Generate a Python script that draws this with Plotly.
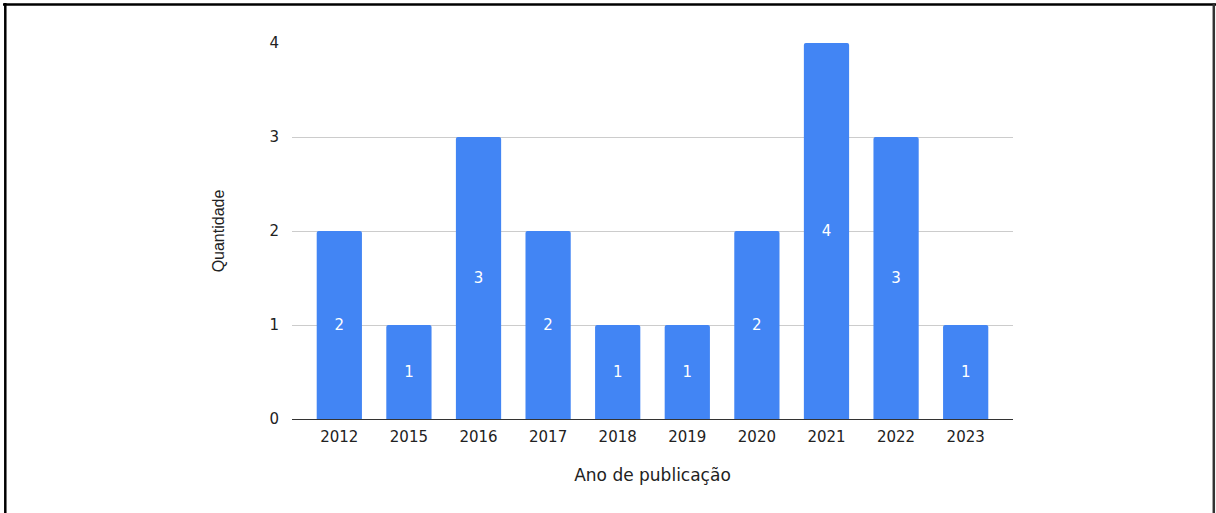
import plotly.graph_objects as go

anos = ["2012", "2015", "2016", "2017", "2018", "2019", "2020", "2021", "2022", "2023"]
quantidade = [2, 1, 3, 2, 1, 1, 2, 4, 3, 1]

W, H = 1216, 513
L, R, T, B = 292, 203, 43, 94

WIDE = "DejaVu Sans, Verdana, sans-serif"
ARIAL = "Liberation Sans, Arial, sans-serif"

fig = go.Figure(go.Bar(
    x=anos, y=quantidade,
    marker=dict(color="#4285F4", cornerradius=2, line=dict(width=0)),
    width=0.65,
    text=[str(v) for v in quantidade],
    textposition="inside", insidetextanchor="middle",
    textfont=dict(color="white", size=15, family=WIDE),
    hoverinfo="x+y",
))

pw = W - L - R
ph = H - T - B

def px_x(p):
    return (p - L) / pw

def px_y(p):
    return (H - B - p) / ph

fig.update_layout(
    width=W, height=H,
    margin=dict(l=L, r=R, t=T, b=B, pad=0),
    paper_bgcolor="white", plot_bgcolor="white",
    font=dict(family=WIDE, size=15, color="#222222"),
    showlegend=False,
    xaxis=dict(
        type="category", range=[-0.68, 9.68],
        showgrid=False, showline=True, linecolor="#333333", linewidth=1,
        ticks="outside", ticklen=4, tickcolor="rgba(0,0,0,0)",
        tickfont=dict(size=15, color="#222222", family=WIDE),
        title=dict(text="Ano de publicação", font=dict(size=17, color="#222222", family=WIDE), standoff=24),
        zeroline=False,
    ),
    yaxis=dict(
        range=[0, 4], dtick=1, showgrid=True, gridcolor="#cccccc", gridwidth=1,
        zeroline=False, showline=False, ticks="outside", ticklen=9, tickcolor="rgba(0,0,0,0)",
        tickfont=dict(size=15, color="#222222", family=WIDE),
        title=dict(text="Quantidade", font=dict(size=16, color="#222222", family=ARIAL), standoff=40),
    ),
    shapes=[
        dict(type="line", xref="paper", yref="paper", x0=px_x(3), x1=px_x(1216), y0=px_y(4.5), y1=px_y(4.5),
             line=dict(color="black", width=2.5)),
        dict(type="line", xref="paper", yref="paper", x0=px_x(5.3), x1=px_x(5.3), y0=px_y(3), y1=px_y(515),
             line=dict(color="black", width=2.5)),
        dict(type="line", xref="paper", yref="paper", x0=px_x(1213.8), x1=px_x(1213.8), y0=px_y(3), y1=px_y(515),
             line=dict(color="#333333", width=2.5)),
    ],
)

fig.write_html("out.html", config={"displayModeBar": False},
               post_script="document.body.style.margin='0';document.body.style.overflow='hidden';")
